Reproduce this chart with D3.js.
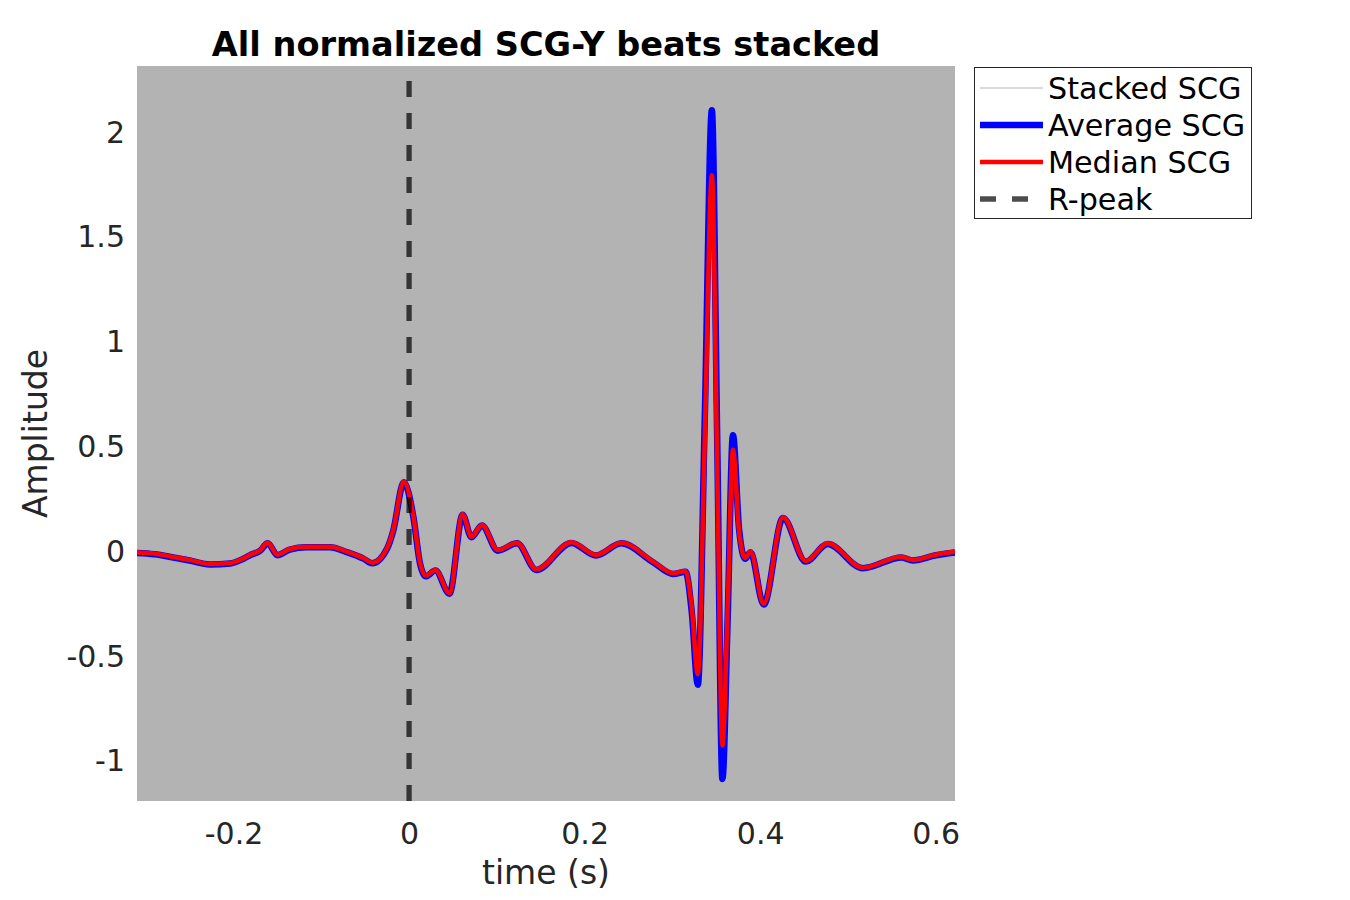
<!DOCTYPE html>
<html>
<head>
<meta charset="utf-8">
<script src="https://cdn.jsdelivr.net/npm/d3@7/dist/d3.min.js"></script>
<style>
  html, body { margin: 0; padding: 0; background: #ffffff; }
  svg { display: block; font-family: "DejaVu Sans", sans-serif; }
</style>
</head>
<body>
<svg id="chart" width="1350" height="900"></svg>
<script>
// ---------- data ----------
const times = [-0.31, -0.29, -0.27, -0.25, -0.227, -0.204, -0.19, -0.181, -0.17, -0.161,
  -0.150, -0.136, -0.117, -0.09, -0.071, -0.052, -0.042, -0.025, -0.018, -0.006,
  0.005, 0.0125, 0.019, 0.03, 0.046, 0.061, 0.071, 0.083, 0.101, 0.123,
  0.145, 0.185, 0.213, 0.242, 0.278, 0.301, 0.315, 0.322, 0.329, 0.337,
  0.345, 0.351, 0.357, 0.363, 0.369, 0.376, 0.383, 0.389, 0.404, 0.426,
  0.452, 0.477, 0.517, 0.561, 0.574, 0.60, 0.622];
const averageSCG = [-0.012, -0.018, -0.032, -0.048, -0.067, -0.062, -0.042, -0.022, -0.002, 0.034,
  -0.023, 0.004, 0.015, 0.015, -0.008, -0.039, -0.061, 0.009, 0.095, 0.325,
  0.157, -0.063, -0.123, -0.096, -0.206, 0.170, 0.063, 0.119, -0.001, 0.034,
  -0.093, 0.036, -0.024, 0.034, -0.056, -0.112, -0.101, -0.29, -0.64, 0.65,
  2.10, 0.55, -1.09, -0.32, 0.55, 0.10, -0.04, -0.008, -0.258, 0.155,
  -0.053, 0.031, -0.085, -0.033, -0.048, -0.023, -0.009];
const medianSCG = [-0.01, -0.015, -0.03, -0.045, -0.065, -0.06, -0.04, -0.02, 0.0, 0.037,
  -0.02, 0.007, 0.018, 0.018, -0.005, -0.036, -0.058, 0.012, 0.098, 0.328,
  0.16, -0.06, -0.12, -0.093, -0.203, 0.173, 0.066, 0.122, 0.002, 0.037,
  -0.09, 0.039, -0.021, 0.037, -0.053, -0.109, -0.098, -0.27, -0.59, 0.55,
  1.79, 0.42, -0.93, -0.27, 0.48, 0.09, -0.036, -0.005, -0.255, 0.158,
  -0.05, 0.034, -0.082, -0.03, -0.045, -0.02, -0.006];
// envelope covered by the stacked beats (fills the whole view)
const stackedTimes = [-0.31, 0.622];
const stackedUpper = [2.4, 2.4];
const stackedLower = [-1.3, -1.3];
const xTicks = [-0.2, 0, 0.2, 0.4, 0.6];
const yTicks = [-1, -0.5, 0, 0.5, 1, 1.5, 2];
const legendLabels = ["Stacked SCG", "Average SCG", "Median SCG", "R-peak"];
const xDomain = [-0.31, 0.622];
const yDomain = [-1.195, 2.311];
const rPeakTime = 0;

// ---------- layout ----------
const svg = d3.select("#chart");
const plot = { left: 137, top: 66, width: 818, height: 735 };
const x = d3.scaleLinear().domain(xDomain).range([plot.left, plot.left + plot.width]);
const y = d3.scaleLinear().domain(yDomain).range([plot.top + plot.height, plot.top]);
const textColor = "#262626";
const fmt = d => d3.format("")(d).replace("\u2212", "-");

svg.append("defs").append("clipPath").attr("id", "clip")
  .append("rect").attr("x", plot.left).attr("y", plot.top)
  .attr("width", plot.width).attr("height", plot.height);

const g = svg.append("g").attr("clip-path", "url(#clip)");

// stacked beats envelope
const stacked = stackedTimes.map((t, i) => ({ t, hi: stackedUpper[i], lo: stackedLower[i] }));
g.append("path").datum(stacked)
  .attr("fill", "#b3b3b3")
  .attr("d", d3.area().x(d => x(d.t)).y0(d => y(d.lo)).y1(d => y(d.hi)));

const avg = times.map((t, i) => ({ t, v: averageSCG[i] }));
const med = times.map((t, i) => ({ t, v: medianSCG[i] }));
const line = d3.line().x(d => x(d.t)).y(d => y(d.v)).curve(d3.curveMonotoneX);

g.append("path").datum(avg).attr("fill", "none").attr("stroke", "#0000ff")
  .attr("stroke-width", 6.5).attr("stroke-linejoin", "round").attr("d", line);
g.append("path").datum(med).attr("fill", "none").attr("stroke", "#ff0000")
  .attr("stroke-width", 4.5).attr("stroke-linejoin", "round").attr("d", line);

// R-peak dashed line (drawn bottom to top)
g.append("line")
  .attr("x1", x(rPeakTime)).attr("x2", x(rPeakTime))
  .attr("y1", y(yDomain[0])).attr("y2", y(yDomain[1]))
  .attr("stroke", "#000").attr("stroke-opacity", 0.7)
  .attr("stroke-width", 5.3).attr("stroke-dasharray", "16,16");

// ---------- axes ----------
const xAxis = d3.axisBottom(x).tickValues(xTicks).tickSize(0).tickPadding(0).tickFormat(fmt);
const xg = svg.append("g").attr("transform", `translate(0,${plot.top + plot.height})`).call(xAxis);
xg.select(".domain").remove();
xg.selectAll("text").attr("fill", textColor).attr("font-size", 30)
  .attr("font-family", "DejaVu Sans").attr("dy", null).attr("y", 43);

const yAxis = d3.axisLeft(y).tickValues(yTicks).tickSize(0).tickPadding(0).tickFormat(fmt);
const yg = svg.append("g").attr("transform", `translate(${plot.left},0)`).call(yAxis);
yg.select(".domain").remove();
yg.selectAll("text").attr("fill", textColor).attr("font-size", 30)
  .attr("font-family", "DejaVu Sans").attr("x", -12).attr("dy", "0.36em");

// axis labels and title
svg.append("text").attr("x", x((xDomain[0] + xDomain[1]) / 2)).attr("y", 884)
  .attr("text-anchor", "middle").attr("font-size", 33).attr("fill", textColor)
  .text("time (s)");
svg.append("text")
  .attr("transform", `translate(47,${plot.top + plot.height / 2}) rotate(-90)`)
  .attr("text-anchor", "middle").attr("font-size", 33).attr("fill", textColor)
  .text("Amplitude");
svg.append("text").attr("x", plot.left + plot.width / 2).attr("y", 56)
  .attr("text-anchor", "middle").attr("font-size", 33.6).attr("font-weight", "bold")
  .attr("fill", "#000").text("All normalized SCG-Y beats stacked");

// ---------- legend ----------
const lg = svg.append("g");
lg.append("rect").attr("x", 974.5).attr("y", 67.5).attr("width", 277).attr("height", 151)
  .attr("fill", "#fff").attr("stroke", "#262626").attr("stroke-width", 1);
const legendStyles = [
  { stroke: "#b3b3b3", width: 1.2, dash: null, opacity: 1 },
  { stroke: "#0000ff", width: 6.5, dash: null, opacity: 1 },
  { stroke: "#ff0000", width: 4.5, dash: null, opacity: 1 },
  { stroke: "#000000", width: 5.3, dash: "16,16", opacity: 0.7 }
];
legendLabels.forEach((lab, i) => {
  const cy = 88 + i * 37;
  const s = legendStyles[i];
  lg.append("line").attr("x1", 980).attr("x2", 1043).attr("y1", cy).attr("y2", cy)
    .attr("stroke", s.stroke).attr("stroke-width", s.width)
    .attr("stroke-opacity", s.opacity).attr("stroke-dasharray", s.dash);
  lg.append("text").attr("x", 1048).attr("y", cy).attr("dy", "0.36em")
    .attr("font-size", 30.2).attr("fill", "#000").text(lab);
});
</script>
</body>
</html>
